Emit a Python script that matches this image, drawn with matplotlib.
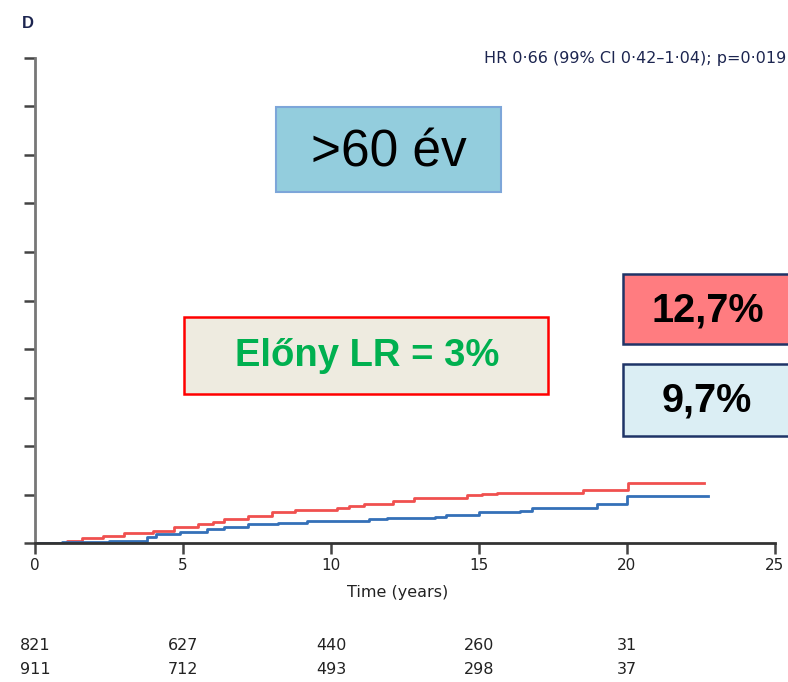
import matplotlib
matplotlib.use("Agg")
import matplotlib.pyplot as plt
from matplotlib.patches import Rectangle

# ---- data ----
red_t = [0, 1.07, 1.6, 2.3, 3.0, 4.0, 4.7, 5.5, 6.0, 6.4, 7.2, 8.0, 8.8, 10.2, 10.6, 11.1,
         12.1, 12.8, 14.6, 15.1, 15.6, 18.5, 20.05, 22.6]
red_v = [0, 0.5, 1.0, 1.5, 2.1, 2.5, 3.2, 3.9, 4.4, 5.0, 5.6, 6.3, 6.8, 7.3, 7.6, 8.0,
         8.7, 9.3, 9.8, 10.1, 10.4, 10.9, 12.4, 12.4]
blue_t = [0, 0.9, 2.5, 3.8, 4.1, 4.9, 5.8, 6.4, 7.2, 8.2, 9.2, 10.4, 11.3, 11.9, 13.5, 13.9,
          15.0, 16.4, 16.8, 19.0, 20.0, 22.75]
blue_v = [0, 0.3, 0.5, 1.3, 1.9, 2.3, 2.8, 3.4, 3.9, 4.2, 4.5, 4.6, 4.9, 5.1, 5.4, 5.8,
          6.3, 6.7, 7.3, 8.0, 9.7, 9.7]
x_ticks = [0, 5, 10, 15, 20, 25]
y_ticks = list(range(0, 101, 10))
risk_times = [0, 5, 10, 15, 20]
risk_row1 = [821, 627, 440, 260, 31]
risk_row2 = [911, 712, 493, 298, 37]

W, H = 788, 682
fig = plt.figure(figsize=(W / 100, H / 100), dpi=100)

def fx(px):
    return px / W

def fy(py):
    return 1 - py / H

narrow = ['DejaVu Sans']
arial = ['Liberation Sans', 'DejaVu Sans']

ax = fig.add_axes([fx(35), fy(543), fx(775) - fx(35), fy(58) - fy(543)])
ax.step(red_t, red_v, where='post', color='#f0504f', lw=2.0)
ax.step(blue_t, blue_v, where='post', color='#3470b8', lw=2.0)
ax.set_xlim(0, 25)
ax.set_ylim(0, 100)
ax.set_xticks(x_ticks)
ax.set_xticklabels([str(t) for t in x_ticks], family=narrow, fontsize=11, color='#222222')
ax.set_yticks(y_ticks)
ax.set_yticklabels([])
for s in ['top', 'right']:
    ax.spines[s].set_visible(False)
ax.spines['left'].set_color('#777777')
ax.spines['bottom'].set_color('#333333')
for s in ['left', 'bottom']:
    ax.spines[s].set_linewidth(2.0)
ax.tick_params(axis='both', direction='out', length=8, width=1.8, color='#444444', pad=3)
ax.patch.set_alpha(0)

# Labels and texts
fig.text(fx(398), fy(592), 'Time (years)', family=narrow, fontsize=11.5,
         ha='center', va='center', color='#222222')
fig.text(fx(786), fy(58), 'HR 0·66 (99% CI 0·42–1·04); p=0·019', family=narrow,
         fontsize=11.5, ha='right', va='center', color='#1c2550')
fig.text(fx(22), fy(23), 'D', family=arial, fontsize=12, fontweight='bold',
         ha='left', va='center', color='#1c2550')

# numbers at risk
for t, a, b in zip(risk_times, risk_row1, risk_row2):
    xp = ax.transData.transform((t, 0))[0]
    xf = fig.transFigure.inverted().transform((xp, 0))[0]
    fig.text(xf, fy(645), str(a), family=narrow, fontsize=11.5, ha='center', va='center', color='#222222')
    fig.text(xf, fy(670), str(b), family=narrow, fontsize=11.5, ha='center', va='center', color='#222222')

def box(x0, y0, x1, y1, fc, ec, lw):
    r = Rectangle((fx(x0), fy(y1)), fx(x1) - fx(x0), fy(y0) - fy(y1),
                  transform=fig.transFigure, facecolor=fc, edgecolor=ec, lw=lw, zorder=5)
    fig.add_artist(r)

# >60 év box
box(276, 107, 501, 192, '#93cddd', '#7da6d9', 1.5)
fig.text(fx(389), fy(153), '>60 év', family=arial, fontsize=37, ha='center', va='center',
         color='black', zorder=6)

# Előny box
box(184, 317, 548, 394, '#eeebe0', '#ff0000', 1.8)
fig.text(fx(367), fy(356), 'Előny LR = 3%', family=arial, fontsize=27.5, fontweight='bold',
         ha='center', va='center', color='#00b050', zorder=6)

# percentage boxes
box(623, 274, 800, 344, '#ff7c80', '#1f3467', 1.8)
fig.text(fx(708), fy(310), '12,7%', family=arial, fontsize=28.5, fontweight='bold',
         ha='center', va='center', color='black', zorder=6)
box(623, 364, 800, 436, '#dbeef4', '#1f3467', 1.8)
fig.text(fx(707), fy(401), '9,7%', family=arial, fontsize=28.5, fontweight='bold',
         ha='center', va='center', color='black', zorder=6)

fig.savefig('out.png', dpi=100)
